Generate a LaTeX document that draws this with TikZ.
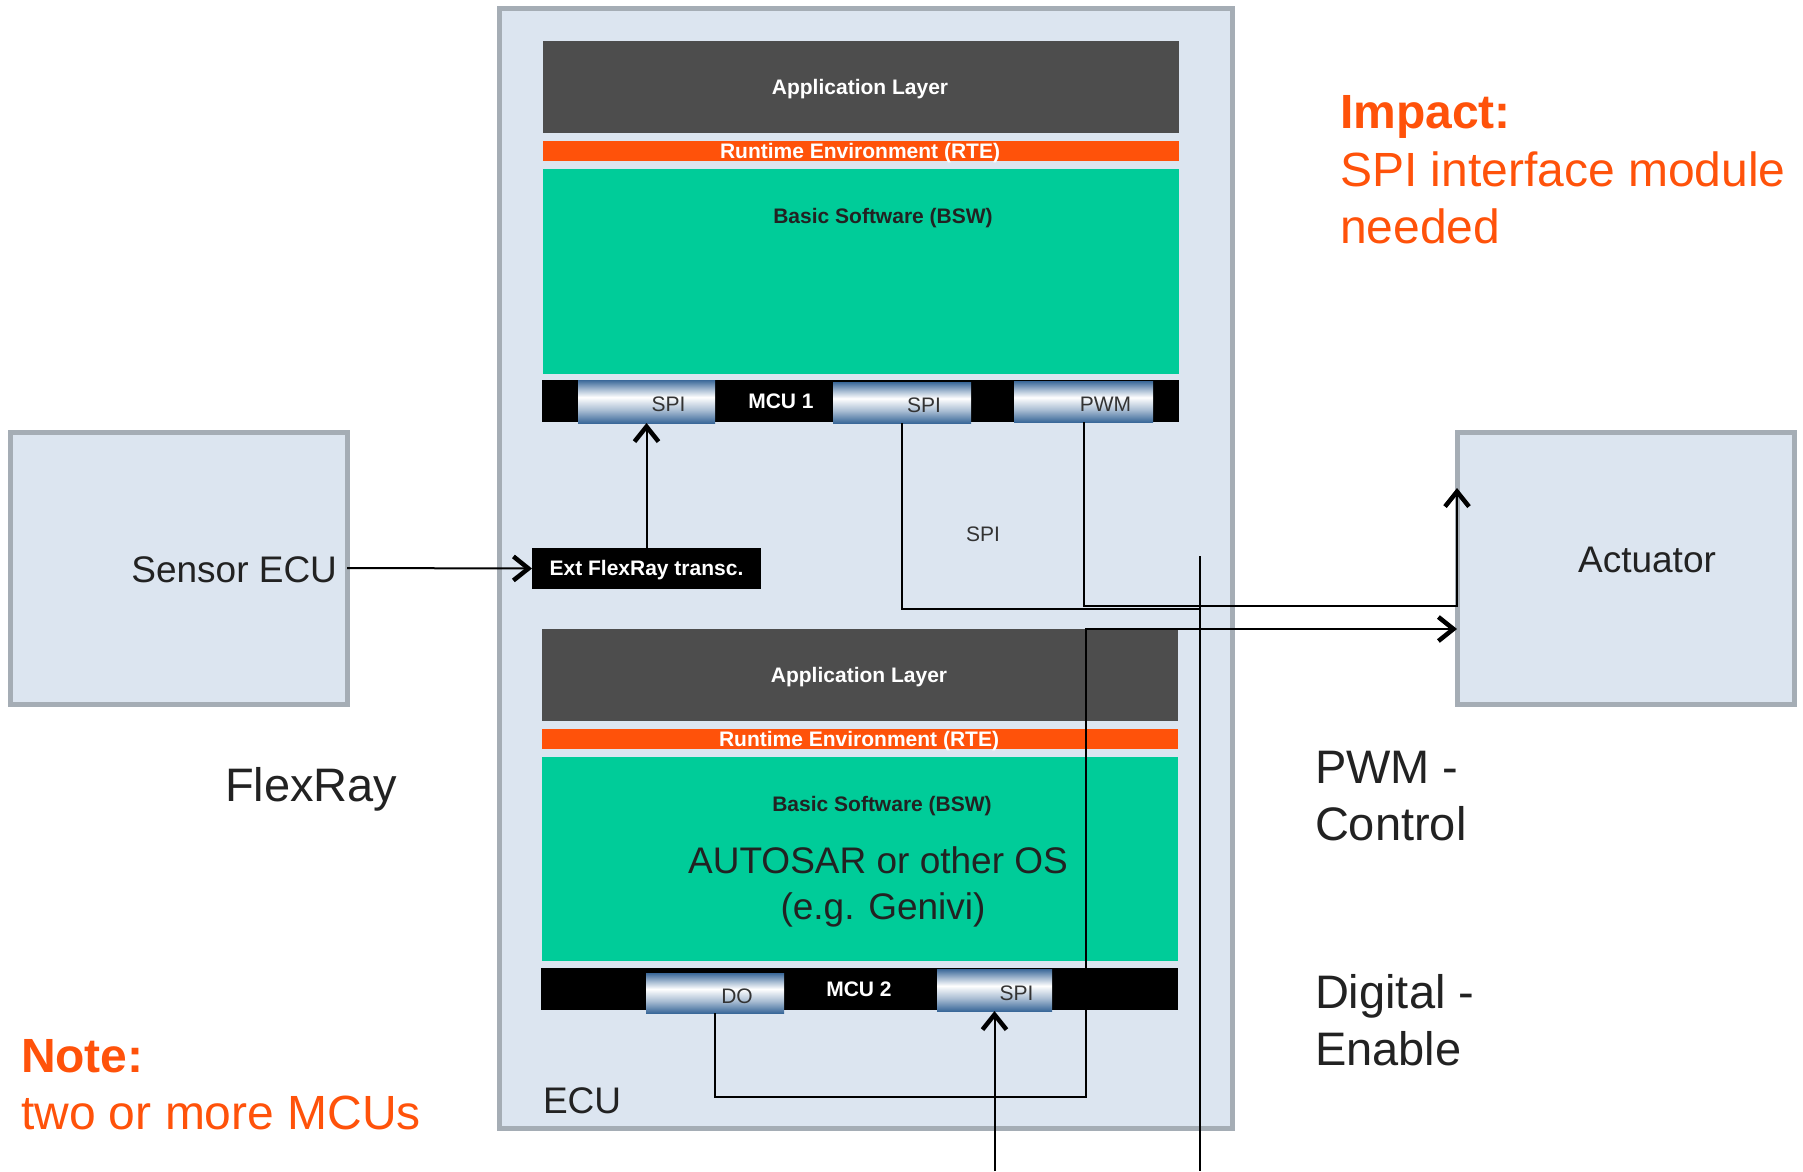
\documentclass[tikz,border=0pt]{standalone}
\usepackage{fontspec}
\setmainfont{Liberation Sans}
\usetikzlibrary{arrows.meta}
\definecolor{ecufill}{HTML}{DCE5F0}
\definecolor{ecuborder}{HTML}{A5ADB5}
\definecolor{applayer}{HTML}{4D4D4D}
\definecolor{rteorange}{HTML}{FF520A}
\definecolor{bswgreen}{HTML}{00CC99}
\definecolor{chipdark}{HTML}{3A6899}
\definecolor{chipmid}{HTML}{A9BDD3}
\definecolor{darktext}{HTML}{222222}
\definecolor{chiptext}{HTML}{333333}
\pgfdeclareverticalshading{chipshade}{100bp}{color(0bp)=(chipdark); color(25bp)=(chipdark); color(40bp)=(chipmid); color(55bp)=(white); color(64bp)=(chipmid); color(75bp)=(chipdark); color(100bp)=(chipdark)}
\begin{document}
\begin{tikzpicture}[x=1pt,y=-1pt,
  blk/.style={inner sep=0pt, outer sep=0pt},
  greybox/.style={blk, draw=ecuborder, line width=5pt, fill=ecufill},
  layerbox/.style={blk, minimum width=636pt},
  appl/.style={layerbox, fill=applayer},
  rteb/.style={layerbox, fill=rteorange},
  bswb/.style={layerbox, fill=bswgreen},
  mcubar/.style={blk, fill=black, minimum width=637pt, minimum height=42pt},
  chip/.style={blk, shading=chipshade, text=chiptext, font=\fontsize{21}{25}\selectfont, text height=20pt, text depth=0pt},
  wlabel/.style={blk, text=white, font=\fontsize{21}{25}\selectfont\bfseries, text height=13pt, text depth=0pt},
  blabel/.style={blk, text=darktext, font=\fontsize{21}{25}\selectfont\bfseries, text height=13pt, text depth=0pt},
  slabel/.style={blk, text=chiptext, font=\fontsize{21}{25}\selectfont},
  big/.style={blk, text=darktext, font=\fontsize{47}{57}\selectfont},
  mid/.style={blk, text=darktext, font=\fontsize{37}{46}\selectfont},
  orange/.style={blk, text=rteorange, font=\fontsize{48}{57}\selectfont},
  conn/.style={line width=2pt, draw=black},
  arr/.style={-{Straight Barb[length=15pt,width=24pt,line width=4.5pt]}}
]
\useasboundingbox (0,0) rectangle (1803,1171);
\fill[white] (0,0) rectangle (1803,1171);

% main boxes
\node[greybox, minimum width=733pt, minimum height=1120pt] (ecu) at (865.5,568) {};
\node[greybox, minimum width=337pt, minimum height=272pt] (sensor) at (178.5,568) {};
\node[greybox, minimum width=337pt, minimum height=272pt] (act) at (1625.5,568) {};

% MCU 1 stack
\node[appl, minimum height=92pt] (app1) at (861,87) {};
\node[rteb, minimum height=20pt] (rte1) at (861,151) {};
\node[bswb, minimum height=205pt] (bsw1) at (861,271.5) {};
\node[mcubar] (mcu1) at (860.5,401) {};
\node[chip, minimum width=137pt, minimum height=43pt] (spi1) at (646.5,401.5) {\hspace*{44pt}SPI};
\node[chip, minimum width=138pt, minimum height=41pt] (spi2) at (902,402.5) {\hspace*{44pt}SPI};
\node[chip, minimum width=139pt, minimum height=41pt] (pwm) at (1083.5,401.5) {\hspace*{44pt}PWM};
\node[wlabel] (app1t) at (860,88) {Application Layer};
\node[wlabel] (rte1t) at (860,152) {Runtime Environment (RTE)};
\node[blabel] (bsw1t) at (883,217) {Basic Software (BSW)};
\node[wlabel] (mcu1t) at (781,402) {MCU 1};

% Ext transceiver
\node[blk, fill=black, minimum width=229pt, minimum height=41pt, text=white, font=\fontsize{21}{25}\selectfont\bfseries, text height=13pt, text depth=0pt] (ext) at (646.5,568.5) {Ext FlexRay transc.};

% MCU 2 stack
\node[appl, minimum height=92pt] (app2) at (860,675) {};
\node[rteb, minimum height=20pt] (rte2) at (860,739) {};
\node[bswb, minimum height=204pt] (bsw2) at (860,859) {};
\node[mcubar] (mcu2) at (859.5,989) {};
\node[chip, minimum width=138pt, minimum height=40pt] (do) at (715,993) {\hspace*{44pt}DO};
\node[chip, minimum width=115pt, minimum height=42pt] (spi3) at (994.5,990) {\hspace*{44pt}SPI};
\node[wlabel] (app2t) at (859,676) {Application Layer};
\node[wlabel] (rte2t) at (859,740) {Runtime Environment (RTE)};
\node[blabel] (bsw2t) at (882,805) {Basic Software (BSW)};
\node[wlabel] (mcu2t) at (859,990) {MCU 2};
\node[mid, anchor=base] (osA) at (878,873) {AUTOSAR or other OS};
\node[mid, anchor=base] (osB) at (883,919) {(e.g. Genivi)};

% other texts
\node[mid, anchor=base east] (sensort) at (337,582) {Sensor ECU};
\node[mid, anchor=base] (actt) at (1647,572) {Actuator};
\node[mid, anchor=base west] (ecut) at (543,1113) {ECU};
\node[slabel] (spimid) at (983,534) {SPI};
\node[big, anchor=base west] (flex) at (225,801) {FlexRay};
\node[big, anchor=base west] (pwmA) at (1315,783) {PWM -};
\node[big, anchor=base west] (pwmB) at (1315,840) {Control};
\node[big, anchor=base west] (digA) at (1315,1008) {Digital -};
\node[big, anchor=base west] (digB) at (1315,1065) {Enable};
\node[orange, anchor=base west, font=\fontsize{48}{57}\selectfont\bfseries] (impA) at (1340,128) {Impact:};
\node[orange, anchor=base west] (impB) at (1340,186) {SPI interface module};
\node[orange, anchor=base west] (impC) at (1340,243) {needed};
\node[orange, anchor=base west, font=\fontsize{48}{57}\selectfont\bfseries] (noteA) at (21,1072) {Note:};
\node[orange, anchor=base west] (noteB) at (21,1129) {two or more MCUs};

% connectors
\coordinate (busTop) at (1200,556);
\coordinate (busBot) at (1200,1171);
\coordinate (busJ) at (1200,609);
\coordinate (pwmC) at (1457,606);
\coordinate (actA) at (1457,488);
\coordinate (doA) at (1086,1097);
\coordinate (doB) at (1086,629);
\coordinate (actB) at (1457,629);
\coordinate (spiIn) at (994.5,1171);

\draw[conn, arr] (sensor.east) -- (ext.west);
\draw[conn, arr] (ext.north) -- (spi1.south);
\draw[conn] (busTop) -- (busBot);
\draw[conn] (spi2.south) |- (busJ);
\draw[conn, arr] (pwm.south) |- (pwmC) -- (actA);
\draw[conn, arr] (do.south) |- (doA) -- (doB) -- (actB);
\draw[conn, arr] (spiIn) -- (spi3.south);
\end{tikzpicture}
\end{document}
